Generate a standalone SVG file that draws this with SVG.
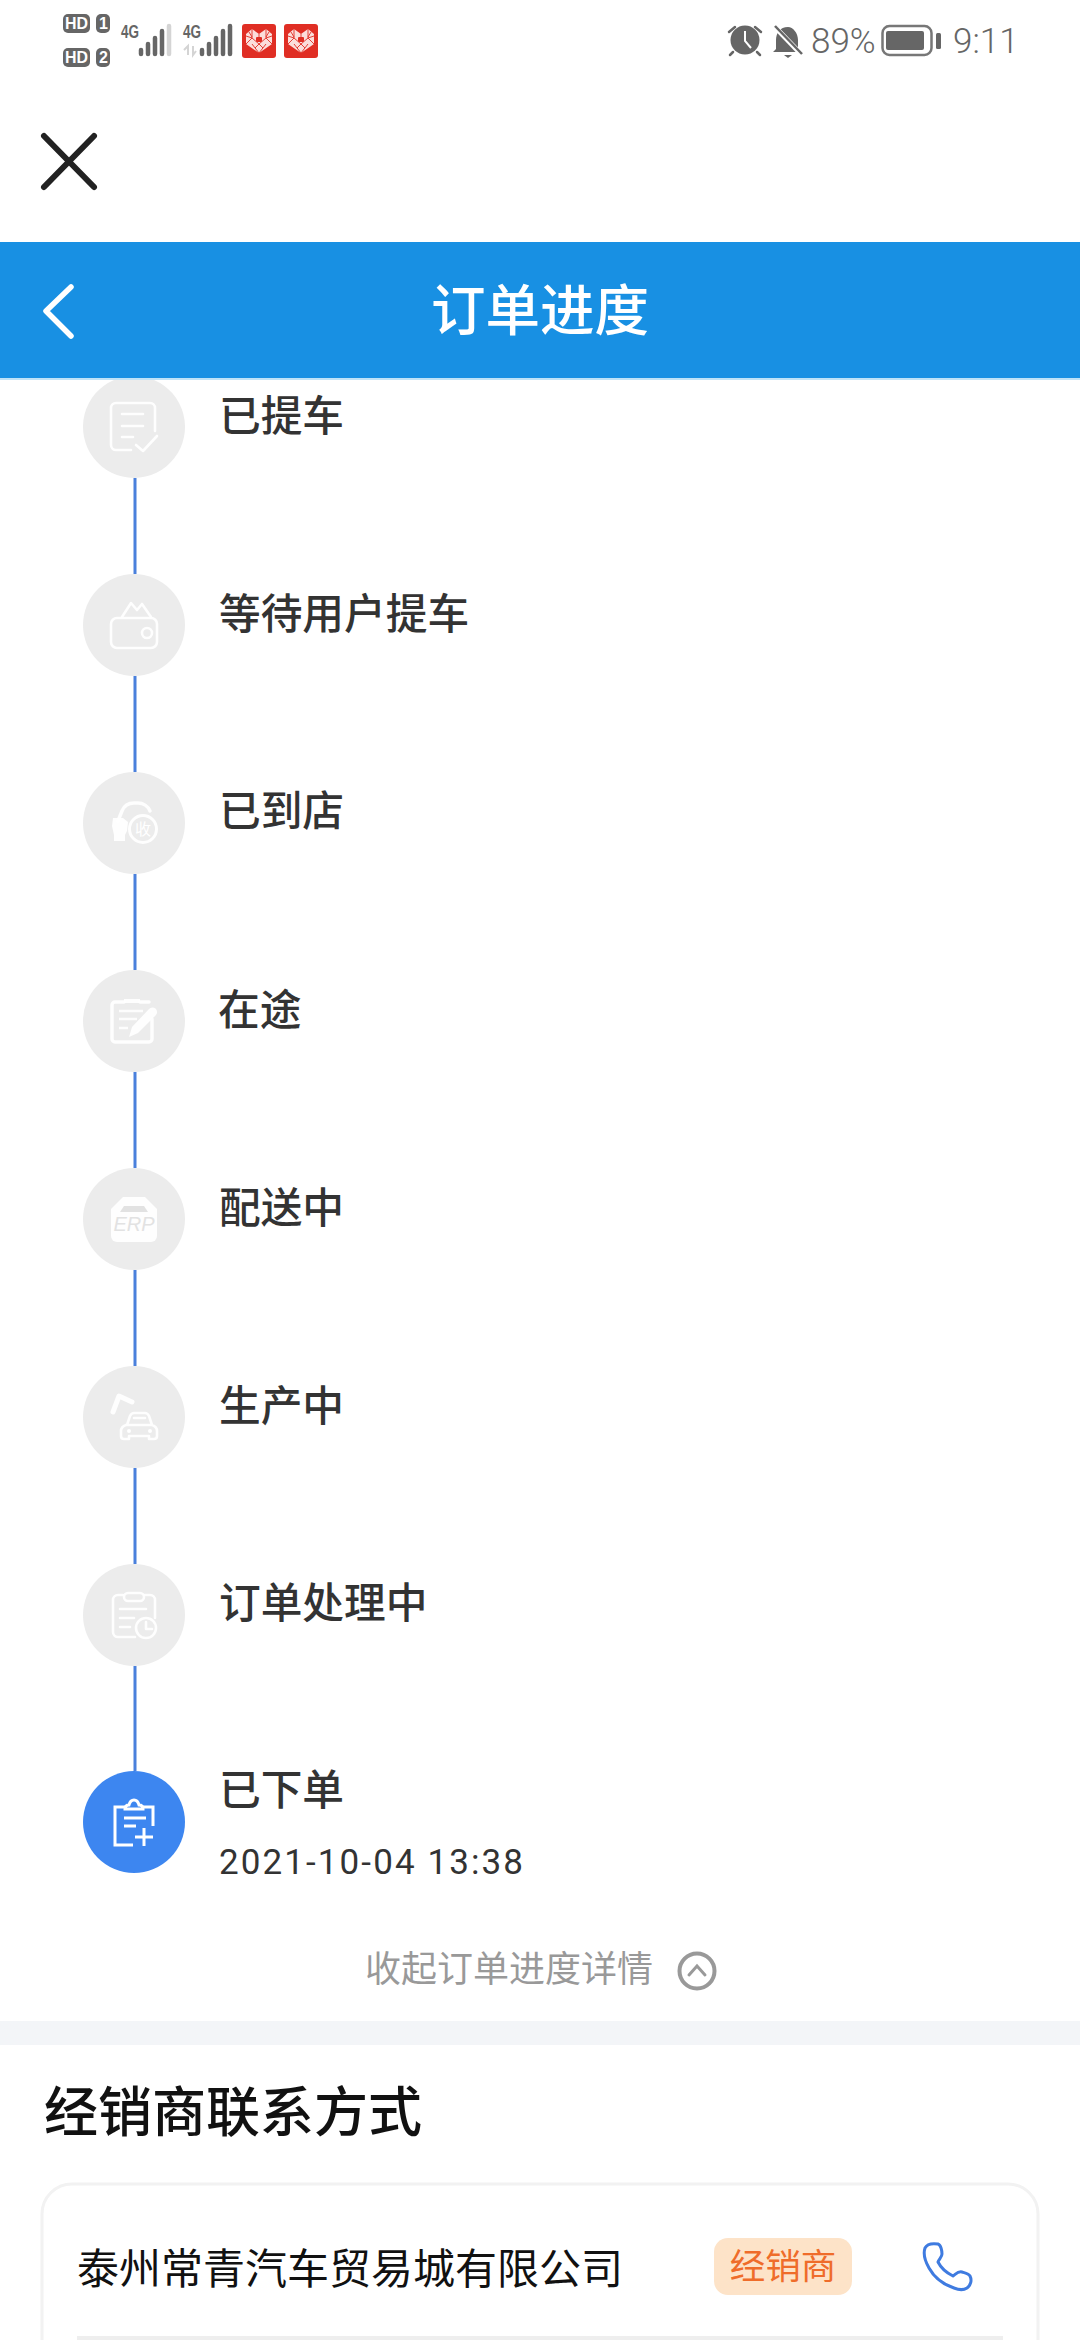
<svg xmlns="http://www.w3.org/2000/svg" xmlns:xlink="http://www.w3.org/1999/xlink" width="1080" height="2340" viewBox="0 0 1080 2340">
<style>
text{font-family:"Noto Sans CJK SC","Noto Sans",sans-serif}
.lbl{font-size:41.7px;font-weight:500;fill:#333}
.node{fill:#ececec}
.ic{fill:none;stroke:#fff;stroke-width:2.6;stroke-linecap:round;stroke-linejoin:round;opacity:.92}
.icf{fill:#fff;opacity:.92}
.conn{stroke:#4a80dc;stroke-width:3;fill:none}
.st{fill:#666}
.stt{font-family:Roboto,sans-serif;font-weight:300;font-size:35px;fill:#666}
.hd{font-family:"Liberation Sans",sans-serif;font-weight:700;font-size:16px;fill:#fff}
.sig{font-family:"Liberation Sans",sans-serif;font-weight:700;font-size:18px;fill:#666}
</style>
<defs>
<g id="pdd">
<rect x="0" y="0" width="34" height="34" rx="3" fill="#e02e24"/>
<path d="M17 10l7-5 6 5v10L17 29 4 20V10l6-5z" fill="#fbdedb"/>
<path d="M17 10v4M10 5v9l7 6 7-6V5M4 12l6 2M30 12l-6 2M10 20l7 9 7-9M4 20l6-6M30 20l-6-6M7 8l3 5M27 8l-3 5M13 24l4-4 4 4" fill="none" stroke="#e02e24" stroke-width=".9"/>
<rect x="14" y="13" width="6" height="5" rx="1" fill="#e02e24"/>
</g>
</defs>
<rect width="1080" height="2340" fill="#fff"/>

<g id="status-bar">
<rect x="63" y="14" width="27" height="19" rx="5" class="st"/><text x="65" y="29" class="hd" textLength="23" lengthAdjust="spacingAndGlyphs">HD</text>
<rect x="96" y="14" width="14" height="19" rx="5" class="st"/><text x="99" y="29" class="hd">1</text>
<rect x="63" y="48" width="27" height="19" rx="5" class="st"/><text x="65" y="63" class="hd" textLength="23" lengthAdjust="spacingAndGlyphs">HD</text>
<rect x="96" y="48" width="14" height="19" rx="5" class="st"/><text x="99" y="63" class="hd">2</text>
<text x="121" y="38" class="sig" textLength="18" lengthAdjust="spacingAndGlyphs">4G</text>
<path d="M141 50v4M148 44v10M155 38v16M162 31v23" stroke="#666" stroke-width="4.5" stroke-linecap="round" fill="none"/>
<path d="M169 26v28" stroke="#d4d4d4" stroke-width="4.5" stroke-linecap="round" fill="none"/>
<text x="183" y="38" class="sig" textLength="18" lengthAdjust="spacingAndGlyphs">4G</text>
<path d="M188 55v-9l-4 4M193 46v9l3-4" stroke="#d4d4d4" stroke-width="2" fill="none"/>
<path d="M202 50v4M209 44v10M216 38v16M223 31v23M230 26v28" stroke="#666" stroke-width="4.5" stroke-linecap="round" fill="none"/>
<use xlink:href="#pdd" href="#pdd" x="242" y="24"/>
<use xlink:href="#pdd" href="#pdd" x="284" y="24"/>
<circle cx="745" cy="40" r="14.5" class="st"/>
<path d="M745 31v10l6 7" stroke="#fff" stroke-width="2" fill="none"/>
<path d="M729 32l6-5M761 32l-6-5M733 52l-3 3M757 52l3 3" stroke="#666" stroke-width="2.5" stroke-linecap="round"/>
<path d="M788 27c-8 0-12 6-12 13v9l-3 3h28l-3-3v-9c0-7-5-13-10-13z" class="st"/>
<path d="M784 55h8l-4 3z" class="st"/>
<path d="M774 26l27 28" stroke="#fff" stroke-width="5"/>
<path d="M775 26l27 28" stroke="#666" stroke-width="2.5"/>
<text x="811" y="53" class="stt">89%</text>
<rect x="882.5" y="26" width="49" height="29" rx="7" fill="none" stroke="#777" stroke-width="2.5"/>
<rect x="886" y="31" width="38" height="19" rx="2" class="st"/>
<rect x="936" y="33" width="5" height="16" rx="1.5" class="st"/>
<text x="953" y="53" class="stt">9:11</text>
</g>

<g id="close-button"><path d="M44 136l50 51M94 136L44 187" stroke="#222" stroke-width="6" stroke-linecap="round" fill="none"/></g>

<g id="header">
<rect x="0" y="242" width="1080" height="136" fill="#1890e3"/>
<rect x="0" y="378" width="1080" height="2" fill="#bfe3f8"/>
<path d="M71 287L46 311l25 25" stroke="#fff" stroke-width="5.5" stroke-linecap="round" stroke-linejoin="round" fill="none"/>
<text x="540" y="330" font-size="54.5" font-weight="500" fill="#fff" text-anchor="middle">订单进度</text>
</g>

<g id="connectors" class="conn">
<path d="M135 478v96M135 676v96M135 874v96M135 1072v96M135 1270v96M135 1468v96M135 1666v105"/>
</g>

<g id="node-picked-up">
<path class="node" d="M114 380h40A51 51 0 1 1 114 380z"/>
<path class="ic" d="M155 431V408a5 5 0 0 0-5-5h-34a5 5 0 0 0-5 5v37a5 5 0 0 0 5 5h15M122 414h21M122 426h21M122 437h11M136 445l7 6 14-15"/>
<text x="219" y="431" class="lbl">已提车</text>
</g>
<g id="node-waiting">
<circle class="node" cx="134" cy="625" r="51"/>
<rect class="ic" x="111" y="618" width="46" height="30" rx="6"/>
<path class="ic" d="M122 617l9-14 6 7 5-6 9 13"/>
<circle class="ic" cx="147" cy="633" r="5"/>
<text x="219" y="629" class="lbl">等待用户提车</text>
</g>
<g id="node-arrived">
<circle class="node" cx="134" cy="823" r="51"/>
<path d="M118 821l4-10c2-5 6-8 12-8h4c5 0 10 3 12 8" fill="none" stroke="#fff" stroke-width="3.5" stroke-linecap="round" opacity=".92"/>
<path class="icf" d="M113 818h10l5 4-1 9-2 4v6h-11v-6l-2-9z"/>
<circle cx="143" cy="829" r="13.5" fill="none" stroke="#fff" stroke-width="3" opacity=".92"/>
<text x="143" y="835" font-size="16" fill="#fff" text-anchor="middle">收</text>
<text x="219" y="826" class="lbl">已到店</text>
</g>
<g id="node-in-transit">
<circle class="node" cx="134" cy="1021" r="51"/>
<path d="M124 1002h-9a3 3 0 0 0-3 3v34a3 3 0 0 0 3 3h34a3 3 0 0 0 3-3v-20M140 1002h9" fill="none" stroke="#fff" stroke-width="3.5" stroke-linecap="round" opacity=".92"/>
<path class="icf" d="M124 999h16v4h-16z"/>
<path d="M119 1011h24M119 1019h18M119 1028h9" stroke="#fff" stroke-width="2.6" opacity=".92"/>
<path class="icf" d="M129 1037l3-10 17-18a4 4 0 0 1 7 6l-18 18z"/>
<text x="218" y="1025" class="lbl">在途</text>
</g>
<g id="node-delivering">
<circle class="node" cx="134" cy="1219" r="51"/>
<path class="icf" d="M123 1197h22l12 12v27a6 6 0 0 1-6 6h-34a6 6 0 0 1-6-6v-27z"/>
<path d="M124 1206h20l4 6h-28z" fill="#e2e2e2"/>
<text x="134" y="1231" font-size="20" font-style="italic" fill="#e2e2e2" text-anchor="middle" style="font-family:'Liberation Sans',sans-serif">ERP</text>
<text x="219" y="1223" class="lbl">配送中</text>
</g>
<g id="node-producing">
<circle class="node" cx="134" cy="1417" r="51"/>
<path d="M113 1412l6-16 13 6" fill="none" stroke="#fff" stroke-width="5" stroke-linecap="round" stroke-linejoin="round" opacity=".92"/>
<path class="ic" d="M127 1425l3-9c1-2 2-3 4-3h11c2 0 3 1 4 3l3 9c3 1 5 3 5 6v5c0 2-1 3-3 3h-5v-3h-20v3h-5c-2 0-3-1-3-3v-5c0-3 2-5 5-6zM127 1425h25M134 1418h11"/>
<circle cx="129" cy="1431" r="2" fill="#fff"/><circle cx="150" cy="1431" r="2" fill="#fff"/>
<text x="219" y="1421" class="lbl">生产中</text>
</g>
<g id="node-processing">
<circle class="node" cx="134" cy="1615" r="51"/>
<path class="ic" d="M135 1637h-17a5 5 0 0 1-5-5v-32a5 5 0 0 1 5-5h5M144 1595h6a5 5 0 0 1 5 5v18"/>
<rect class="ic" x="124" y="1593" width="20" height="8" rx="4"/>
<path class="ic" d="M120 1609h26M120 1618h14M120 1627h10"/>
<circle class="ic" cx="146" cy="1628" r="10"/>
<path class="ic" d="M146 1622v7h6"/>
<text x="219" y="1618" class="lbl">订单处理中</text>
</g>
<g id="node-ordered">
<circle cx="134" cy="1822" r="51" fill="#3d86f0"/>
<path d="M133 1845h-18v-38h10M143 1807h10v19" fill="none" stroke="#fff" stroke-width="3"/>
<path d="M125 1809c0-4 3-4 4-4 1-4 3-5 5-5s4 1 5 5c2 0 4 1 4 4z" fill="none" stroke="#fff" stroke-width="3"/>
<path d="M124 1818h22M124 1826h12M135 1837h18M144 1828v18" fill="none" stroke="#fff" stroke-width="3"/>
<text x="219" y="1805" class="lbl">已下单</text>
<text x="219" y="1874" font-size="35" fill="#333" style="font-family:Roboto,sans-serif" textLength="304" lengthAdjust="spacing">2021-10-04 13:38</text>
</g>

<g id="collapse">
<text x="365" y="1982" font-size="36" fill="#999">收起订单进度详情</text>
<circle cx="697" cy="1971" r="17.5" fill="none" stroke="#999" stroke-width="4"/>
<path d="M689 1975l8-9 8 9" fill="none" stroke="#999" stroke-width="3" stroke-linecap="round"/>
</g>

<rect id="band" x="0" y="2021" width="1080" height="24" fill="#f3f5f8"/>

<g id="dealer">
<text x="44" y="2132" font-size="54" font-weight="500" fill="#111">经销商联系方式</text>
<path d="M42 2345v-131a30 30 0 0 1 30-30h936a30 30 0 0 1 30 30v131" fill="none" stroke="#f2f2f2" stroke-width="3"/>
<text x="77" y="2284" font-size="42" fill="#111">泰州常青汽车贸易城有限公司</text>
<rect x="714" y="2238" width="138" height="57" rx="14" fill="#fde3c8"/>
<text x="783" y="2279" font-size="35.5" fill="#ef6c2a" text-anchor="middle">经销商</text>
<path d="M925 2248c2-4 6-5 13-4 3 1 4 7 4 10 0 3-3 5-4 8 3 6 9 11 15 14 3-2 5-5 9-4 3 1 7 2 8 4 2 4 1 9-3 12-3 2-8 2-13 0-12-4-20-11-25-20-4-7-6-14-4-20z" fill="none" stroke="#3f7be0" stroke-width="3" stroke-linejoin="round"/>
<rect x="77" y="2336" width="926" height="4" fill="#eeeeee"/>
</g>
</svg>
